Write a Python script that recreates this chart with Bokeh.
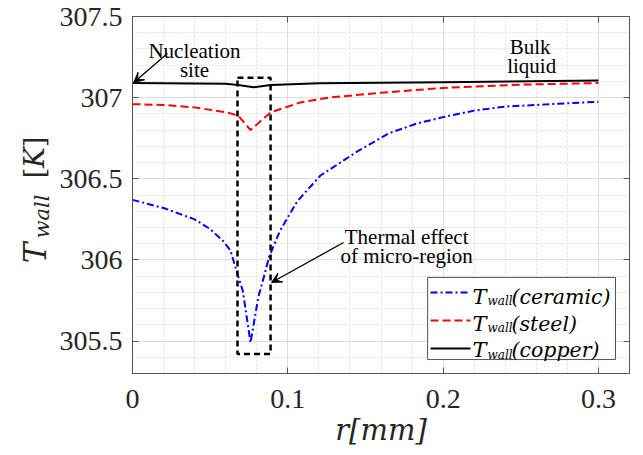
import math
from bokeh.plotting import figure
from bokeh.layouts import row
from bokeh.models import Label, Arrow, VeeHead, FixedTicker, LinearAxis, Range1d
from bokeh.embed import file_html
from bokeh.resources import INLINE

# ---------------- data ----------------
r_ceramic = [0.000, 0.020, 0.040, 0.050, 0.058, 0.063, 0.067, 0.071, 0.076, 0.081,
             0.085, 0.088, 0.095, 0.106, 0.121, 0.145, 0.165, 0.183, 0.200, 0.220,
             0.240, 0.260, 0.300]
T_ceramic = [306.37, 306.32, 306.25, 306.19, 306.12, 306.06, 305.93, 305.81, 305.49, 305.77,
             305.91, 306.02, 306.18, 306.36, 306.52, 306.67, 306.78, 306.84, 306.88, 306.92,
             306.945, 306.955, 306.975]

r_steel = [0.000, 0.020, 0.040, 0.060, 0.068, 0.076, 0.089, 0.108, 0.126, 0.160,
           0.200, 0.250, 0.300]
T_steel = [306.96, 306.955, 306.94, 306.91, 306.89, 306.80, 306.91, 306.97, 307.00, 307.03,
           307.06, 307.08, 307.09]

r_copper = [0.000, 0.060, 0.068, 0.078, 0.089, 0.120, 0.200, 0.300]
T_copper = [307.09, 307.085, 307.078, 307.064, 307.078, 307.088, 307.095, 307.105]

x_ticks = [0, 0.1, 0.2, 0.3]
x_tick_labels = ["0", "0.1", "0.2", "0.3"]
y_ticks = [305.5, 306.0, 306.5, 307.0, 307.5]
y_tick_labels = ["305.5", "306", "306.5", "307", "307.5"]

# micro-region box (data units)
box_left, box_right, box_bottom, box_top = 0.0676, 0.0889, 305.42, 307.123

AX = "#555555"
GRID = "#dedede"
TXT = "#262626"

# ---------------- main figure ----------------
p = figure(width=587, height=455, x_range=(0, 0.32), y_range=(305.3, 307.5),
           output_backend="svg", toolbar_location=None,
           min_border_left=76, min_border_right=14, min_border_top=16, min_border_bottom=82)
p.background_fill_color = "white"
p.border_fill_color = "white"
p.outline_line_color = AX

x_minor = [round(i * 0.02, 2) for i in range(17)]
y_minor = [round(305.3 + i * 0.1, 1) for i in range(23)]
xt = FixedTicker(ticks=x_ticks, minor_ticks=x_minor)
yt = FixedTicker(ticks=y_ticks, minor_ticks=y_minor)

for ax in (p.xaxis[0], p.yaxis[0]):
    ax.axis_line_color = AX
    ax.major_tick_line_color = AX
    ax.major_tick_in = 6
    ax.major_tick_out = 0
    ax.minor_tick_line_color = None
    ax.major_label_text_font = "Liberation Serif"
    ax.major_label_text_font_size = "28px"
    ax.major_label_text_color = TXT
p.xaxis.ticker = xt
p.yaxis.ticker = yt
p.xaxis.major_label_overrides = {t: s for t, s in zip(x_ticks, x_tick_labels)}
p.yaxis.major_label_overrides = {t: s for t, s in zip(y_ticks, y_tick_labels)}
p.xaxis.major_label_standoff = 12
p.yaxis.major_label_standoff = 6

p.xaxis.axis_label = "r[mm]"
p.xaxis.axis_label_text_font = "DejaVu Serif"
p.xaxis.axis_label_text_font_style = "italic"
p.xaxis.axis_label_text_font_size = "29px"
p.xaxis.axis_label_text_color = TXT
p.xaxis.axis_label_standoff = 2

top = LinearAxis(ticker=FixedTicker(ticks=x_ticks), major_label_overrides={t: "" for t in x_ticks},
                 axis_line_color=AX, major_tick_line_color=AX, major_tick_in=6, major_tick_out=0,
                 minor_tick_line_color=None)
right = LinearAxis(ticker=FixedTicker(ticks=y_ticks), major_label_overrides={t: "" for t in y_ticks},
                   axis_line_color=AX, major_tick_line_color=AX, major_tick_in=6, major_tick_out=0,
                   minor_tick_line_color=None)
p.add_layout(top, "above")
p.add_layout(right, "right")

p.xgrid.ticker = xt
p.ygrid.ticker = yt
for g in (p.xgrid[0], p.ygrid[0]):
    g.grid_line_color = GRID
    g.grid_line_width = 1
    g.minor_grid_line_color = GRID
    g.minor_grid_line_dash = "2 2"

# ---------------- curves ----------------
p.line(r_ceramic, T_ceramic, line_color="#0000ff", line_width=2, line_dash="7 3 2 3")
p.line(r_steel, T_steel, line_color="#ff0000", line_width=2, line_dash="8 4")
p.line(r_copper, T_copper, line_color="black", line_width=2)

# dashed micro-region box
p.quad(left=box_left, right=box_right, bottom=box_bottom, top=box_top,
       fill_color=None, line_color="black", line_width=2.5, line_dash="6 4")

# ---------------- annotations ----------------
def lab(fig, x, y, t, size, font="Liberation Serif", style="normal", align="left", angle=0.0,
        color="black", baseline="alphabetic"):
    fig.add_layout(Label(x=x, y=y, text=t, text_font=font, text_font_size=f"{size}px",
                         text_font_style=style, text_align=align, text_baseline=baseline,
                         angle=angle, text_color=color))

lab(p, 0.0399, 307.290, "Nucleation", 21, align="center")
lab(p, 0.0399, 307.173, "site", 21, align="center")
lab(p, 0.256, 307.309, "Bulk", 21, align="center")
lab(p, 0.257, 307.192, "liquid", 21, align="center")
lab(p, 0.1765, 306.144, "Thermal effect", 21, align="center")
lab(p, 0.1765, 306.027, "of micro-region", 21, align="center")

p.add_layout(Arrow(end=VeeHead(size=10, fill_color="black", line_color="black", line_width=1),
                   x_start=0.0225, y_start=307.272, x_end=0.0008, y_end=307.093,
                   line_color="black", line_width=1.3))
p.add_layout(Arrow(end=VeeHead(size=10, fill_color="black", line_color="black", line_width=1),
                   x_start=0.1359, y_start=306.107, x_end=0.0895, y_end=305.861,
                   line_color="black", line_width=1.3))

# ---------------- legend (custom, for subscripts) ----------------
p.quad(left=0.19, right=0.311, bottom=305.386, top=305.892,
       fill_color="white", line_color=AX, line_width=1)
leg_names = ["(ceramic)", "(steel)", "(copper)"]
leg_colors = ["#0000ff", "#ff0000", "black"]
leg_dashes = ["7 3 2 3", "8 4", "solid"]
leg_line_y = [305.799, 305.627, 305.454]
leg_base_y = [305.774, 305.608, 305.442]
for name, c, d, ly, by in zip(leg_names, leg_colors, leg_dashes, leg_line_y, leg_base_y):
    p.segment(x0=0.1919, x1=0.2176, y0=ly, y1=ly, line_color=c, line_width=2, line_dash=d)
    lab(p, 0.2189, by, "T", 21, font="DejaVu Serif", style="italic")
    lab(p, 0.2286, by - 0.025, "wall", 12, font="DejaVu Serif", style="italic")
    lab(p, 0.2440, by, name, 20.5, font="DejaVu Serif", style="italic")

# ---------------- y-axis title panel (frame aligned with main frame) ----------------
ylab = figure(width=56, height=455, x_range=Range1d(0, 56), y_range=p.y_range,
              output_backend="svg", toolbar_location=None,
              x_axis_location=None, y_axis_location=None, min_border=0)
ylab.grid.visible = False
ylab.outline_line_color = None
ylab.background_fill_color = "white"
ylab.border_fill_color = "white"
ang = math.pi / 2
lab(ylab, 34, 306.043, "T", 31, font="DejaVu Serif", style="italic", angle=ang, color=TXT,
    align="center", baseline="middle")
lab(ylab, 41, 306.267, "wall", 21, font="DejaVu Serif", style="italic", angle=ang, color=TXT,
    align="center", baseline="middle")
lab(ylab, 34, 306.536, "[", 28, font="DejaVu Serif", angle=ang, color=TXT,
    align="center", baseline="middle")
lab(ylab, 34, 306.631, "K", 28, font="DejaVu Serif", style="italic", angle=ang, color=TXT,
    align="center", baseline="middle")
lab(ylab, 34, 306.727, "]", 28, font="DejaVu Serif", angle=ang, color=TXT,
    align="center", baseline="middle")

layout = row(ylab, p)
open("out.html", "w").write(file_html(layout, INLINE))
